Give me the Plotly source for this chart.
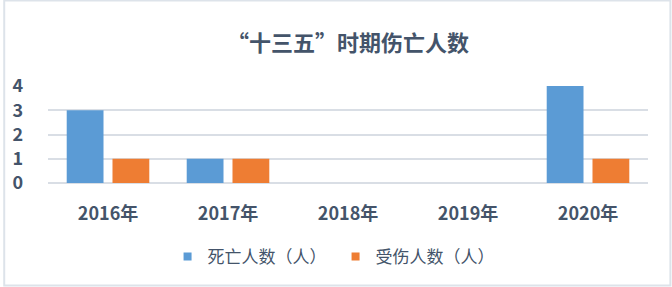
import plotly.graph_objects as go

categories = ["2016年", "2017年", "2018年", "2019年", "2020年"]
deaths = [3, 1, 0, 0, 4]
injuries = [1, 1, 0, 0, 1]
series_names = ["死亡人数（人）", "受伤人数（人）"]
series_colors = ["#5b9bd5", "#ee7d33"]
title_text = "“十三五”时期伤亡人数"
y_ticks = [0, 1, 2, 3, 4]

W, H = 672, 287
L, R, T, B = 45, 24, 86, 104
pw, ph = W - L - R, H - T - B

font_family = "Noto Sans CJK SC, Noto Sans, sans-serif"
txt = "#44546a"

fig = go.Figure()
for vals, name, col in zip([deaths, injuries], series_names, series_colors):
    fig.add_trace(go.Bar(x=categories, y=vals, name=name, showlegend=False,
                         marker=dict(color=col, line=dict(width=0))))
# legend entries with small square swatches
for name, col in zip(series_names, series_colors):
    fig.add_trace(go.Scatter(x=[None], y=[None], mode="markers", name=name,
                             marker=dict(symbol="square", size=8, color=col)))

def px(x):
    return (x - L) / pw

def py(y):
    return (H - B - y) / ph

fig.update_layout(
    width=W, height=H,
    margin=dict(l=L, r=R, t=T, b=B, pad=0),
    paper_bgcolor="white", plot_bgcolor="white",
    barmode="group", bargap=0.237, bargroupgap=0.196,
    font=dict(family=font_family, color=txt),
    title=dict(text="<b>" + title_text + "</b>", x=0.5, xref="paper", xanchor="center",
               y=1 - 43 / H, yanchor="middle", yref="container",
               font=dict(size=22, color=txt, family=font_family)),
    showlegend=True,
    legend=dict(orientation="h", x=px(334), xref="paper", xanchor="center",
                y=py(257), yanchor="middle",
                font=dict(size=17, color=txt, family=font_family),
                itemwidth=30, traceorder="normal", entrywidthmode="pixels", entrywidth=123),
    xaxis=dict(showgrid=False, showline=False, ticks="",
               tickfont=dict(size=18, color=txt, family=font_family),
               ticklabelstandoff=18,
               tickvals=categories,
               ticktext=["<b>" + c + "</b>" for c in categories]),
    yaxis=dict(range=[0, 4], tickvals=y_ticks,
               ticktext=["<b>" + str(v) + "</b>" for v in y_ticks],
               showgrid=True, gridcolor="#d9dee5", gridwidth=2,
               zeroline=True, zerolinecolor="#d9dee5", zerolinewidth=2,
               showline=False, ticks="", ticklabelstandoff=24,
               tickfont=dict(size=18, color=txt, family=font_family)),
    shapes=[dict(type="rect", xref="paper", yref="paper",
                 x0=px(1), x1=px(670.5), y0=py(285.5), y1=py(0.5),
                 line=dict(color="#dde3ea", width=2), fillcolor="rgba(0,0,0,0)",
                 layer="below")],
)

fig.write_html("out.html")
